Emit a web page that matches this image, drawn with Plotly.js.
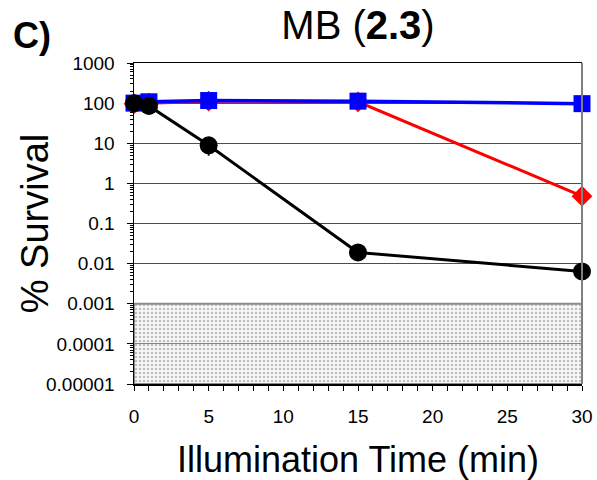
<!DOCTYPE html>
<html>
<head>
<meta charset="utf-8">
<script src="https://cdn.plot.ly/plotly-3.0.1.min.js"></script>
<style>html,body{margin:0;padding:0;background:#fff;}#chart{width:597px;height:480px;}</style>
</head>
<body>
<div id="chart"></div>
<script>
// Illumination time (min)
var timesMin = [0, 1, 5, 15, 30];
// % survival per series
var redSurvival   = [96, 100, 112, 108, 0.48];
var redError      = [0, 0, 45, 45, 0];
var blueSurvival  = [100, 108, 116, 112, 97];
var blackSurvival = [100, 85, 8.9, 0.019, 0.0064];
var blackError    = [0, 0, 4, 0, 0];
// axis ticks
var xTickVals = [0, 5, 10, 15, 20, 25, 30];
var yTickVals = [1e-5, 1e-4, 1e-3, 1e-2, 1e-1, 1, 10, 100, 1000];
var yTickText = ['0.00001', '0.0001', '0.001', '0.01', '0.1', '1', '10', '100', '1000'];
// detection limit band
var detectionLimit = 0.001;
var yFloor = 1e-5;
var xRange = [0, 30];

// minor log ticks (2..9 within each decade)
var yMinorVals = [];
for (var e = -5; e < 3; e++) {
  for (var m = 2; m <= 9; m++) yMinorVals.push(m * Math.pow(10, e));
}

var FONT = 'Liberation Sans, Arial, sans-serif';

var band = {
  x: [xRange[0], xRange[1], xRange[1], xRange[0], xRange[0]],
  y: [yFloor, yFloor, detectionLimit, detectionLimit, yFloor],
  mode: 'lines', fill: 'toself',
  line: {color: '#8c8c8c', width: 2},
  fillcolor: 'rgba(0,0,0,0)',
  fillpattern: {shape: '.', bgcolor: 'rgba(235,235,235,0.35)', fgcolor: 'rgba(150,150,150,0.6)', size: 4, solidity: 0.3},
  hoverinfo: 'skip', showlegend: false
};

var red = {
  x: timesMin, y: redSurvival, mode: 'lines+markers',
  line: {color: '#ff0000', width: 3},
  marker: {symbol: 'diamond', size: 16, color: '#ff0000'},
  error_y: {type: 'data', array: redError, visible: true, color: '#ff0000', thickness: 1.5, width: 0},
  cliponaxis: false, showlegend: false
};
var blue = {
  x: timesMin, y: blueSurvival, mode: 'lines+markers',
  line: {color: '#0000ff', width: 3.5},
  marker: {symbol: 'square', size: 17, color: '#0000ff'},
  cliponaxis: false, showlegend: false
};
var black = {
  x: timesMin, y: blackSurvival, mode: 'lines+markers',
  line: {color: '#000000', width: 3},
  marker: {symbol: 'circle', size: 18, color: '#000000'},
  error_y: {type: 'data', array: blackError, visible: true, color: '#000000', thickness: 2, width: 0},
  cliponaxis: false, showlegend: false
};

var layout = {
  width: 597, height: 480,
  margin: {l: 134, r: 15, t: 63, b: 96},
  paper_bgcolor: '#ffffff', plot_bgcolor: '#ffffff',
  font: {family: FONT, color: '#000000'},
  showlegend: false,
  title: {
    text: 'MB (<b>2.3</b>)',
    font: {family: FONT, size: 40, color: '#000'},
    x: 0.5, xref: 'paper', xanchor: 'center',
    y: 0.947, yref: 'container', yanchor: 'middle'
  },
  xaxis: {
    range: xRange, tickvals: xTickVals,
    ticks: 'outside', ticklen: 5, tickwidth: 1, tickcolor: '#000',
    minor: {dtick: 1, ticks: 'outside', ticklen: 5, tickwidth: 1, tickcolor: '#000', showgrid: false},
    ticklabelstandoff: 10,
    tickfont: {family: FONT, size: 19, color: '#000'},
    showgrid: false, zeroline: false,
    showline: true, linecolor: '#000', linewidth: 1.5, mirror: true,
    title: {text: 'Illumination Time (min)', font: {family: FONT, size: 36, color: '#000'}, standoff: 22}
  },
  yaxis: {
    type: 'log', range: [-5, 3],
    tickvals: yTickVals, ticktext: yTickText,
    ticks: 'outside', ticklen: 6, tickwidth: 1, tickcolor: '#000',
    minor: {tickmode: 'array', tickvals: yMinorVals, ticks: 'outside', ticklen: 3, tickwidth: 1, tickcolor: '#000', showgrid: false},
    ticklabelstandoff: 8,
    tickfont: {family: FONT, size: 19, color: '#000'},
    showgrid: true, gridcolor: '#4d4d4d', gridwidth: 1,
    zeroline: false,
    showline: true, linecolor: '#000', linewidth: 1.5,
    title: {text: '% Survival', font: {family: FONT, size: 38, color: '#000'}}
  },
  shapes: [
    {type: 'line', xref: 'paper', yref: 'paper', x0: 1, x1: 1, y0: 0, y1: 1, line: {color: '#808080', width: 2}}
  ],
  annotations: [
    {text: '<b>C)</b>', xref: 'paper', yref: 'paper', x: -0.275, y: 1.085, xanchor: 'left', yanchor: 'middle',
     showarrow: false, font: {family: FONT, size: 36, color: '#000'}}
  ]
};

Plotly.newPlot('chart', [band, red, blue, black], layout, {displayModeBar: false, staticPlot: true});
</script>
</body>
</html>
